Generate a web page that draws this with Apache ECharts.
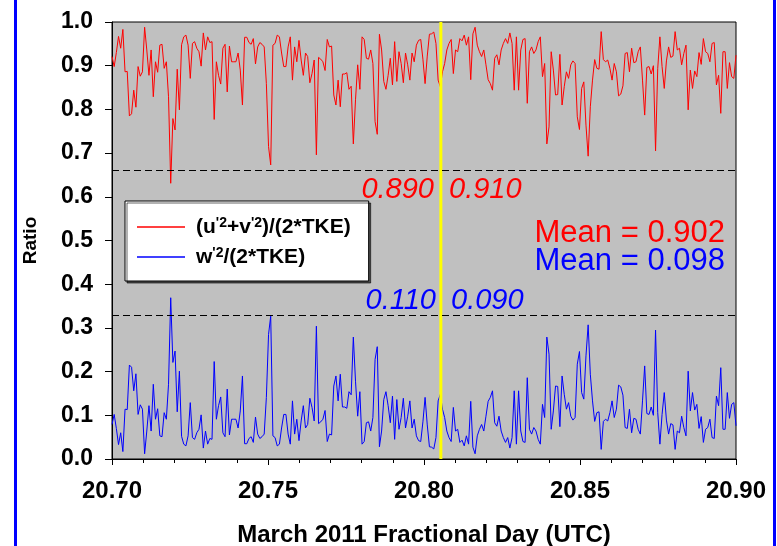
<!DOCTYPE html>
<html>
<head>
<meta charset="utf-8">
<script src="https://cdn.jsdelivr.net/npm/echarts@6/dist/echarts.min.js"></script>
<style>
  html, body { margin: 0; padding: 0; background: #fff; }
  #main { width: 777px; height: 546px; }
</style>
</head>
<body>
<div id="main"></div>
<script>
// sample times: 1-min samples across 20.70 - 20.90
var tStart = 20.70;
var tEnd = 20.90;

// (u'^2+v'^2)/(2*TKE)
var horizRatio = [
  .921,.898,.930,.967,.940,.983,.886,.887,.785,.790,
  .844,.805,.898,.876,.886,.988,.936,.878,.936,.829,
  .909,.885,.947,.949,.894,.909,.829,.631,.779,.753,
  .892,.799,.948,.966,.970,.947,.871,.951,.955,.940,
  .932,.899,.975,.936,.966,.953,.955,.777,.909,.878,
  .858,.940,.949,.840,.945,.909,.909,.909,.929,.890,
  .810,.965,.965,.953,.949,.962,.904,.943,.953,.949,
  .943,.859,.715,.673,.947,.951,.970,.966,.929,.898,
  .898,.943,.966,.867,.943,.909,.958,.913,.878,.929,
  .921,.861,.882,.913,.696,.919,.915,.909,.889,.960,
  .943,.945,.833,.810,.867,.806,.881,.881,.884,.846,
  .853,.721,.822,.902,.846,.966,.960,.917,.915,.936,
  .905,.772,.743,.972,.936,.864,.846,.878,.917,.856,
  .955,.864,.932,.905,.861,.929,.902,.867,.929,.909,
  .947,.958,.960,.915,.859,.922,.972,.973,.977,.951,
  .867,.852,.886,.905,.936,.951,.960,.882,.936,.932,
  .962,.957,.970,.947,.966,.868,.973,.988,.947,.932,
  .921,.936,.902,.868,.859,.844,.917,.925,.902,.936,
  .951,.962,.951,.975,.951,.844,.966,.844,.936,.960,
  .962,.814,.932,.943,.928,.936,.955,.966,.875,.905,
  .721,.760,.932,.890,.833,.834,.926,.810,.852,.886,
  .871,.902,.911,.905,.783,.754,.848,.863,.764,.693,
  .806,.867,.914,.894,.892,.978,.914,.909,.913,.894,
  .867,.905,.886,.831,.835,.854,.928,.930,.886,.940,
  .907,.909,.932,.943,.867,.787,.896,.898,.881,.900,
  .705,.894,.966,.898,.848,.911,.943,.919,.922,.978,
  .936,.940,.902,.928,.947,.799,.890,.848,.888,.875,
  .930,.903,.962,.932,.928,.909,.951,.953,.856,.878,
  .791,.932,.932,.848,.907,.875,.871,.924
];

// w'^2/(2*TKE)
var vertRatio = [
  .079,.102,.070,.033,.060,.017,.114,.113,.215,.210,
  .156,.195,.102,.124,.114,.012,.064,.122,.064,.171,
  .091,.115,.053,.051,.106,.091,.171,.369,.221,.247,
  .108,.201,.052,.034,.030,.053,.129,.049,.045,.060,
  .068,.101,.025,.064,.034,.047,.045,.223,.091,.122,
  .142,.060,.051,.160,.055,.091,.091,.091,.071,.110,
  .190,.035,.035,.047,.051,.038,.096,.057,.047,.051,
  .057,.141,.285,.327,.053,.049,.030,.034,.071,.102,
  .102,.057,.034,.133,.057,.091,.042,.087,.122,.071,
  .079,.139,.118,.087,.304,.081,.085,.091,.111,.040,
  .057,.055,.167,.190,.133,.194,.119,.119,.116,.154,
  .147,.279,.178,.098,.154,.034,.040,.083,.085,.064,
  .095,.228,.257,.028,.064,.136,.154,.122,.083,.144,
  .045,.136,.068,.095,.139,.071,.098,.133,.071,.091,
  .053,.042,.040,.085,.141,.078,.028,.027,.023,.049,
  .133,.148,.114,.095,.064,.049,.040,.118,.064,.068,
  .038,.043,.030,.053,.034,.132,.027,.012,.053,.068,
  .079,.064,.098,.132,.141,.156,.083,.075,.098,.064,
  .049,.038,.049,.025,.049,.156,.034,.156,.064,.040,
  .038,.186,.068,.057,.072,.064,.045,.034,.125,.095,
  .279,.240,.068,.110,.167,.166,.074,.190,.148,.114,
  .129,.098,.089,.095,.217,.246,.152,.137,.236,.307,
  .194,.133,.086,.106,.108,.022,.086,.091,.087,.106,
  .133,.095,.114,.169,.165,.146,.072,.070,.114,.060,
  .093,.091,.068,.057,.133,.213,.104,.102,.119,.100,
  .295,.106,.034,.102,.152,.089,.057,.081,.078,.022,
  .064,.060,.098,.072,.053,.201,.110,.152,.112,.125,
  .070,.097,.038,.068,.072,.091,.049,.047,.144,.122,
  .209,.068,.068,.152,.093,.125,.129,.076
];

var seriesNames = ["(u'2+v'2)/(2*TKE)", "w'2/(2*TKE)"];
var xTicks = [20.70, 20.75, 20.80, 20.85, 20.90];
var yTicks = [0.0, 0.1, 0.2, 0.3, 0.4, 0.5, 0.6, 0.7, 0.8, 0.9, 1.0];
var splitTime = 20.8054;
var dashLevels = [0.66, 0.333];
var meanBefore = ['0.890', '0.110'];
var meanAfter = ['0.910', '0.090'];
var meanAll = ['0.902', '0.098'];

function pairs(vals) {
  var step = (tEnd - tStart) / (vals.length - 1);
  return vals.map(function (v, i) { return [tStart + i * step, v]; });
}

var chart = echarts.init(document.getElementById('main'));

var axisFont = { color: '#000', fontFamily: 'Arial, Liberation Sans', fontWeight: 'bold' };

var option = {
  backgroundColor: '#fff',
  animation: false,
  grid: {
    left: 112, right: 41, top: 22, bottom: 87,
    outerBoundsMode: 'none', containLabel: false,
    show: true, backgroundColor: '#c0c0c0', borderColor: '#000', borderWidth: 1
  },
  legend: {
    orient: 'vertical',
    left: 125, top: 201,
    icon: 'rect',
    itemWidth: 48, itemHeight: 1.5, itemGap: 8,
    padding: [15, 18, 13, 12],
    backgroundColor: '#fff',
    borderColor: '#000', borderWidth: 1,
    shadowColor: 'rgba(0,0,0,0.6)', shadowOffsetX: 2, shadowOffsetY: 2, shadowBlur: 0,
    data: seriesNames,
    formatter: function (name) {
      return name.replace(/'2/g, "{sup|'2}");
    },
    textStyle: {
      color: '#000', fontFamily: 'Arial, Liberation Sans', fontWeight: 'bold', fontSize: 21,
      lineHeight: 22,
      padding: [0, 0, 0, 6],
      rich: {
        sup: { fontSize: 14, fontWeight: 'bold', fontFamily: 'Arial, Liberation Sans', verticalAlign: 'top', lineHeight: 22, color: '#000' }
      }
    }
  },
  xAxis: {
    type: 'value',
    min: xTicks[0], max: xTicks[xTicks.length - 1], interval: 0.05,
    name: 'March 2011 Fractional Day (UTC)',
    nameLocation: 'middle', nameGap: 64,
    nameTextStyle: Object.assign({ fontSize: 24 }, axisFont),
    axisLine: { lineStyle: { color: '#000', width: 1 } },
    axisTick: { length: 6, lineStyle: { color: '#000' } },
    minorTick: { show: true, splitNumber: 5, length: 4, lineStyle: { color: '#000' } },
    splitLine: { show: false },
    axisLabel: Object.assign({ fontSize: 24, margin: 20, formatter: function (v) { return v.toFixed(2); } }, axisFont)
  },
  yAxis: {
    type: 'value',
    min: yTicks[0], max: yTicks[yTicks.length - 1], interval: 0.1,
    name: 'Ratio',
    nameLocation: 'middle', nameGap: 72,
    nameTextStyle: Object.assign({ fontSize: 19 }, axisFont),
    axisLine: { show: true, lineStyle: { color: '#000', width: 1 } },
    axisTick: { show: true, length: 7, lineStyle: { color: '#000' } },
    splitLine: { show: false },
    axisLabel: Object.assign({ fontSize: 23, margin: 19, formatter: function (v) { return v.toFixed(1); } }, axisFont)
  },
  series: [
    {
      name: seriesNames[0],
      type: 'line',
      data: pairs(horizRatio),
      symbol: 'none',
      lineStyle: { color: '#ff0000', width: 1 },
      itemStyle: { color: '#ff0000' },
      z: 3,
      markLine: {
        silent: true, symbol: 'none', label: { show: false },
        lineStyle: { color: '#000', type: [7, 4], width: 1 },
        data: dashLevels.map(function (v) { return { yAxis: v }; })
      }
    },
    {
      name: seriesNames[1],
      type: 'line',
      data: pairs(vertRatio),
      symbol: 'none',
      lineStyle: { color: '#0000ff', width: 1 },
      itemStyle: { color: '#0000ff' },
      z: 3
    },
    {
      // split marker
      name: 'split',
      type: 'line',
      data: [[splitTime, 0], [splitTime, 1]],
      symbol: 'none',
      silent: true,
      lineStyle: { color: '#ffff00', width: 3 },
      itemStyle: { color: '#ffff00' },
      z: 4
    }
  ],
  graphic: [
    { type: 'rect', shape: { x: 14, y: 0, width: 3, height: 546 }, style: { fill: '#0000ff' } },
    { type: 'rect', shape: { x: 773, y: 0, width: 3, height: 546 }, style: { fill: '#0000ff' } },
    { type: 'text', z: 10, style: { text: meanBefore[0], x: 434, y: 190, textAlign: 'right', textVerticalAlign: 'middle', font: 'italic 29px Arial, Liberation Sans', fill: '#ff0000' } },
    { type: 'text', z: 10, style: { text: meanAfter[0], x: 449, y: 190, textAlign: 'left', textVerticalAlign: 'middle', font: 'italic 29px Arial, Liberation Sans', fill: '#ff0000' } },
    { type: 'text', z: 10, style: { text: meanBefore[1], x: 436, y: 301, textAlign: 'right', textVerticalAlign: 'middle', font: 'italic 29px Arial, Liberation Sans', fill: '#0000ff' } },
    { type: 'text', z: 10, style: { text: meanAfter[1], x: 451, y: 301, textAlign: 'left', textVerticalAlign: 'middle', font: 'italic 29px Arial, Liberation Sans', fill: '#0000ff' } },
    { type: 'text', z: 10, style: { text: 'Mean = ' + meanAll[0], x: 725, y: 233, textAlign: 'right', textVerticalAlign: 'middle', font: '31px Arial, Liberation Sans', fill: '#ff0000' } },
    { type: 'text', z: 10, style: { text: 'Mean = ' + meanAll[1], x: 725, y: 261, textAlign: 'right', textVerticalAlign: 'middle', font: '31px Arial, Liberation Sans', fill: '#0000ff' } }
  ]
};

chart.setOption(option);
</script>
</body>
</html>
